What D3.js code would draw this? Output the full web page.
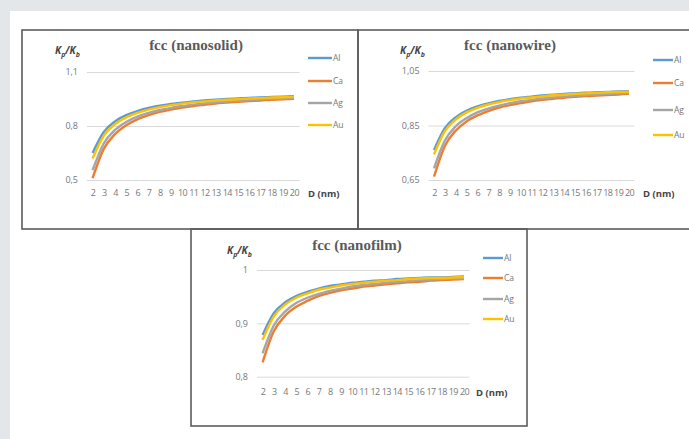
<!DOCTYPE html>
<html>
<head>
<meta charset="utf-8">
<script src="https://cdn.jsdelivr.net/npm/d3@7"></script>
<style>
  html, body { margin: 0; padding: 0; background: #e4e7e9; }
  svg { display: block; }
</style>
</head>
<body>
<div id="chart"></div>
<script>
// particle size D (nm)
const sizes = [2, 3, 4, 5, 6, 7, 8, 9, 10, 11, 12, 13, 14, 15, 16, 17, 18, 19, 20];
const metals = ['Al', 'Ca', 'Ag', 'Au'];

// Kp/Kb, nanosolid
const solidAl = [0.650, 0.767, 0.825, 0.860, 0.883, 0.900, 0.913, 0.922, 0.930, 0.936, 0.942, 0.946, 0.950, 0.953, 0.956, 0.959, 0.961, 0.963, 0.965];
const solidCa = [0.510, 0.673, 0.755, 0.804, 0.837, 0.860, 0.878, 0.891, 0.902, 0.911, 0.918, 0.925, 0.930, 0.935, 0.939, 0.942, 0.946, 0.948, 0.951];
const solidAg = [0.555, 0.703, 0.778, 0.822, 0.852, 0.873, 0.889, 0.901, 0.911, 0.919, 0.926, 0.932, 0.936, 0.941, 0.944, 0.948, 0.951, 0.953, 0.956];
const solidAu = [0.620, 0.747, 0.810, 0.848, 0.873, 0.891, 0.905, 0.916, 0.924, 0.931, 0.937, 0.942, 0.946, 0.949, 0.953, 0.955, 0.958, 0.960, 0.962];

// Kp/Kb, nanowire
const wireAl = [0.760, 0.840, 0.880, 0.904, 0.920, 0.931, 0.940, 0.947, 0.952, 0.956, 0.960, 0.963, 0.966, 0.968, 0.970, 0.972, 0.973, 0.975, 0.976];
const wireCa = [0.662, 0.775, 0.831, 0.865, 0.887, 0.903, 0.916, 0.925, 0.932, 0.939, 0.944, 0.948, 0.952, 0.955, 0.958, 0.960, 0.962, 0.964, 0.966];
const wireAg = [0.693, 0.795, 0.847, 0.877, 0.898, 0.912, 0.923, 0.932, 0.939, 0.944, 0.949, 0.953, 0.956, 0.959, 0.962, 0.964, 0.966, 0.968, 0.969];
const wireAu = [0.744, 0.829, 0.872, 0.898, 0.915, 0.927, 0.936, 0.943, 0.949, 0.953, 0.957, 0.961, 0.963, 0.966, 0.968, 0.970, 0.972, 0.973, 0.974];

// Kp/Kb, nanofilm
const filmAl = [0.878, 0.919, 0.939, 0.951, 0.959, 0.965, 0.970, 0.973, 0.976, 0.978, 0.980, 0.981, 0.983, 0.984, 0.985, 0.986, 0.986, 0.987, 0.988];
const filmCa = [0.827, 0.885, 0.914, 0.931, 0.942, 0.951, 0.957, 0.962, 0.965, 0.969, 0.971, 0.973, 0.975, 0.977, 0.978, 0.980, 0.981, 0.982, 0.983];
const filmAg = [0.844, 0.896, 0.922, 0.938, 0.948, 0.955, 0.961, 0.965, 0.969, 0.972, 0.974, 0.976, 0.978, 0.979, 0.981, 0.982, 0.983, 0.984, 0.984];
const filmAu = [0.869, 0.913, 0.935, 0.948, 0.956, 0.963, 0.967, 0.971, 0.974, 0.976, 0.978, 0.980, 0.981, 0.983, 0.984, 0.985, 0.985, 0.986, 0.987];

const solidTicks = [0.5, 0.8, 1.1];
const wireTicks = [0.65, 0.85, 1.05];
const filmTicks = [0.8, 0.9, 1];

const colors = { Al: '#5b9bd5', Ca: '#ed7d31', Ag: '#a5a5a5', Au: '#ffc000' };

const W = 689, H = 439;
const svg = d3.select('#chart').append('svg').attr('width', W).attr('height', H);
svg.append('rect').attr('width', W).attr('height', H).attr('fill', '#e4e7e9');
svg.append('rect').attr('x', 10).attr('y', 11).attr('width', W - 10).attr('height', H - 11).attr('fill', '#fff');

const ptFormat = d3.formatLocale({ decimal: ',', thousands: '.', grouping: [3], currency: ['', ''] }).format('.2~f');

const panels = [
  { title: 'fcc (nanosolid)', series: [solidAl, solidCa, solidAg, solidAu], ticks: solidTicks,
    box: [22, 30, 336, 199], x: [87, 299.5], y: [180, 72], titleX: 196, titleY: 50,
    kx: 55, ky: 54, legX: 308, legLen: 24, legY: [58, 81, 103, 125], unitX: 308, tickY: 196 },
  { title: 'fcc (nanowire)', series: [wireAl, wireCa, wireAg, wireAu], ticks: wireTicks,
    box: [358, 30, 345, 199], x: [428.6, 634.4], y: [180, 71], titleX: 510, titleY: 50,
    kx: 400, ky: 54, legX: 653, legLen: 20, legY: [60, 83, 110, 135], unitX: 643, tickY: 196 },
  { title: 'fcc (nanofilm)', series: [filmAl, filmCa, filmAg, filmAu], ticks: filmTicks,
    box: [191, 229, 336, 197], x: [257, 469.6], y: [376.7, 270], titleX: 357, titleY: 250,
    kx: 227, ky: 254, legX: 483, legLen: 20, legY: [258, 278, 299, 319], unitX: 476, tickY: 395 }
];

panels.forEach(p => {
  const g = svg.append('g');
  const [bx, by, bw, bh] = p.box;

  const x = d3.scalePoint().domain(sizes).range(p.x).padding(0.5);
  const y = d3.scaleLinear().domain(d3.extent(p.ticks)).range(p.y);

  // gridlines + y tick labels
  const yAxis = g.append('g')
    .attr('transform', `translate(${p.x[0]},0)`)
    .call(d3.axisLeft(y).tickValues(p.ticks).tickFormat(ptFormat).tickSize(-(p.x[1] - p.x[0])).tickPadding(9));
  yAxis.select('.domain').remove();
  yAxis.selectAll('line').attr('stroke', '#d9d9d9').attr('stroke-width', 1);
  yAxis.selectAll('text').attr('fill', '#777').style('font', '9px "Open Sans", sans-serif');

  // category labels
  const xAxis = g.append('g')
    .attr('transform', `translate(0,${p.tickY - 5})`)
    .call(d3.axisBottom(x).tickSize(0).tickPadding(0));
  xAxis.select('.domain').remove();
  xAxis.selectAll('text').attr('fill', '#777').attr('dy', '0.6em').style('font', '9px "Open Sans", sans-serif').style('letter-spacing', '-0.6px');

  g.append('text').attr('x', p.unitX).attr('y', p.tickY + 1)
    .attr('fill', '#444').style('font', 'bold 9.5px "Open Sans", sans-serif').text('D (nm)');

  // curves
  const line = d3.line().x((d, i) => x(sizes[i])).y(d => y(d)).curve(d3.curveMonotoneX);
  p.series.forEach((s, k) => {
    g.append('path').datum(s).attr('d', line)
      .attr('fill', 'none').attr('stroke', colors[metals[k]]).attr('stroke-width', 2.4)
      .attr('stroke-linejoin', 'round');
  });

  // title
  g.append('text').attr('x', p.titleX).attr('y', p.titleY).attr('text-anchor', 'middle')
    .attr('fill', '#5a5a5a').style('font', 'bold 15px "Liberation Serif", serif').text(p.title);

  // Kp/Kb label
  const k = g.append('text').attr('x', p.kx).attr('y', p.ky)
    .attr('fill', '#444').style('font', 'italic bold 10px "Open Sans", sans-serif');
  k.append('tspan').text('K');
  k.append('tspan').attr('dy', 3).style('font-size', '7px').text('p');
  k.append('tspan').attr('dy', -3).text('/K');
  k.append('tspan').attr('dy', 3).style('font-size', '7px').text('b');

  // legend
  metals.forEach((m, i) => {
    g.append('line').attr('x1', p.legX).attr('x2', p.legX + p.legLen)
      .attr('y1', p.legY[i]).attr('y2', p.legY[i])
      .attr('stroke', colors[m]).attr('stroke-width', 2.4);
    g.append('text').attr('x', p.legX + p.legLen + 1).attr('y', p.legY[i] + 3)
      .attr('fill', '#777').style('font', '8.5px "Open Sans", sans-serif').text(m);
  });

  // panel frame
  svg.append('rect').attr('x', bx).attr('y', by).attr('width', bw).attr('height', bh)
    .attr('fill', 'none').attr('stroke', '#5c5c5c').attr('stroke-width', 1.6);
});
</script>
</body>
</html>
